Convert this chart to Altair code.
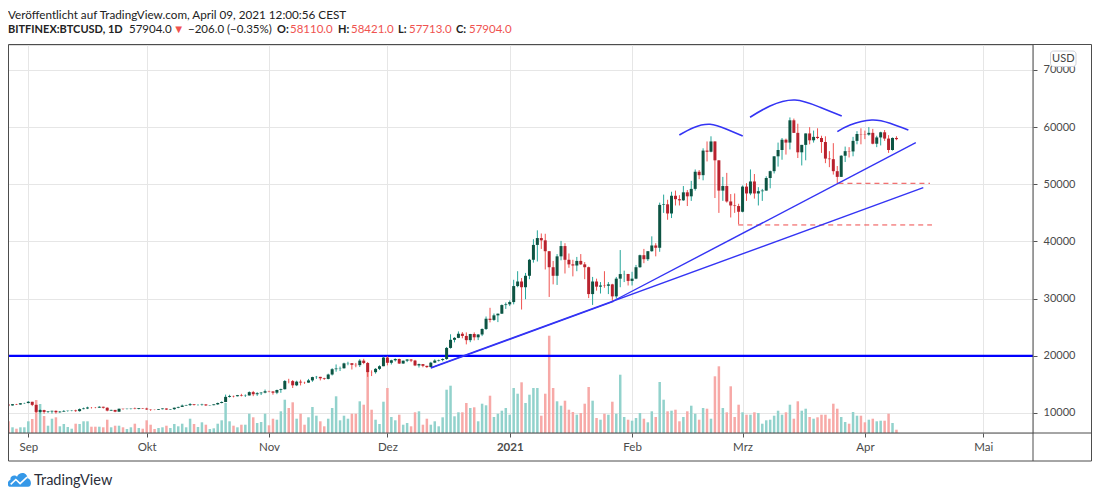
import altair as alt
import numpy as np
import pandas as pd

FONT = "Lato"

# ---------------- data ----------------
start_date = "2020-08-27"
first_open = 11470

aug_c = [11320, 11540, 11480, 11710, 11740]
aug_h = [11590, 11560, 11590, 11720, 11790]
aug_l = [11140, 11290, 11400, 11460, 11600]

sep_c = [11960, 11420, 10190, 10510, 10180, 10270, 10380, 10130, 10240, 10360, 10400, 10440, 10330, 10680, 10790,
         10960, 10950, 10930, 11090, 10920, 10420, 10540, 10230, 10740, 10690, 10730, 10770, 10700, 10840, 10780]
sep_h = [12090, 11960, 11470, 10660, 10570, 10340, 10410, 10440, 10350, 10510, 10420, 10480, 10580, 10790, 10940,
         11100, 11050, 11050, 11180, 11100, 10990, 10570, 10540, 10770, 10750, 10790, 10810, 10950, 10860, 10850]
sep_l = [11680, 11200, 10010, 9900, 9870, 10000, 9900, 9880, 10010, 10200, 10220, 10300, 10200, 10230, 10640,
         10680, 10780, 10830, 10890, 10770, 10290, 10360, 10140, 10200, 10570, 10640, 10620, 10650, 10640, 10700]

oct_c = [10620, 10570, 10550, 10670, 10790, 10600, 10670, 10920, 11060, 11300, 11380, 11550, 11430, 11430, 11500,
         11330, 11370, 11510, 11750, 11920, 12820, 12980, 12930, 13120, 13030, 13070, 13650, 13280, 13460, 13560, 13800]
oct_h = [10920, 10650, 10600, 10690, 10800, 10800, 10690, 10950, 11100, 11480, 11440, 11730, 11560, 11550, 11620,
         11540, 11400, 11530, 11820, 12030, 13220, 13190, 13030, 13160, 13350, 13250, 13780, 13860, 13640, 13660, 14100]
oct_l = [10530, 10370, 10500, 10530, 10630, 10530, 10570, 10550, 10830, 11050, 11260, 11230, 11300, 11280, 11280,
         11220, 11300, 11340, 11420, 11690, 11900, 12700, 12730, 12900, 12900, 12800, 13050, 12950, 12990, 13140, 13440]

nov_c = [13760, 13550, 14030, 14160, 15590, 15580, 14840, 15480, 15330, 15310, 15700, 16280, 16320, 16070, 15960,
         16730, 17660, 17780, 17820, 18680, 18710, 18420, 18370, 19160, 18740, 17150, 17140, 17720, 18180, 19700]
nov_h = [13900, 13830, 14070, 14260, 15770, 15980, 15770, 15650, 15830, 15470, 15960, 16340, 16480, 16330, 16160,
         16880, 17840, 18490, 18120, 18800, 18960, 18710, 18760, 19420, 19480, 18920, 17460, 17860, 18350, 19860]
nov_l = [13620, 13200, 13290, 13530, 14100, 15190, 14370, 14700, 14820, 15090, 15280, 15450, 15960, 15700, 15790,
         15880, 16560, 17220, 17340, 17770, 18350, 17610, 18000, 18040, 18530, 16320, 16460, 16880, 17510, 18180]

dec_c = [18780, 19220, 19450, 18650, 19150, 19360, 19170, 18320, 18550, 18250, 18030, 18800, 19170, 19270, 19440,
         21380, 22800, 23140, 23860, 23480, 22740, 23820, 23240, 23730, 24700, 26490, 26280, 27080, 27370, 28880, 29000]
dec_h = [19920, 19320, 19560, 19500, 19170, 19420, 19420, 19290, 18640, 18570, 18260, 18950, 19400, 19350, 19570,
         21550, 23770, 23270, 24270, 24150, 24100, 23840, 24100, 23790, 24790, 26880, 28400, 27400, 27400, 28990, 29330]
dec_l = [18330, 18480, 19000, 18580, 18600, 18900, 18900, 18200, 17950, 18000, 17880, 18020, 18730, 19000, 19050,
         19300, 21250, 22350, 23080, 23070, 22000, 22380, 22700, 22750, 23450, 24520, 25850, 26100, 25900, 27330, 28200]

jan_c = [29400, 32200, 33000, 32000, 34000, 36800, 39400, 40600, 40200, 38300, 35500, 34000, 37400, 39200, 36800,
         36000, 35800, 36600, 36000, 35500, 30800, 33000, 32100, 32300, 32250, 32500, 30400, 33500, 34300, 34320, 33100]
jan_h = [29680, 33300, 34800, 33600, 34500, 36950, 40400, 41950, 41400, 41350, 38300, 36600, 37800, 40100, 39700,
         37900, 36800, 37300, 37800, 36400, 35600, 33800, 33500, 32900, 34800, 32900, 32600, 33800, 38500, 34900, 34300]
jan_l = [28700, 29000, 32000, 28100, 29900, 33400, 36300, 36500, 38700, 35100, 30300, 32500, 32400, 36700, 34400,
         35400, 33900, 34800, 35900, 33400, 30100, 28900, 31400, 30900, 31900, 30800, 29600, 30000, 32000, 32900, 32300]

feb_c = [33500, 35500, 37600, 36900, 38300, 39300, 38900, 46400, 46500, 44900, 48000, 47400, 47200, 48600,
         47900, 49200, 52200, 51600, 55900, 55700, 57500, 54200, 48900, 49700, 47000, 46300, 46200, 45200]
feb_h = [34700, 35900, 37700, 38700, 38300, 40900, 39700, 46800, 48200, 47300, 48700, 48900, 48100, 49700,
         49000, 50600, 52600, 52500, 56300, 57500, 58400, 57500, 54200, 51300, 52000, 48300, 48400, 46600]
feb_l = [32300, 33400, 35400, 36200, 36600, 38200, 37400, 38200, 45000, 43800, 44100, 46300, 46300, 47100,
         46200, 47100, 48900, 50900, 50700, 54000, 55600, 47600, 45000, 47100, 46800, 44200, 45000, 43000]

mar_c = [49600, 48400, 50500, 48400, 48800, 48900, 51100, 52300, 54900, 56000, 57800, 57300, 61200, 59000, 55600,
         56900, 58900, 57700, 58300, 58100, 57400, 54500, 54400, 52300, 51300, 55000, 55800, 55750, 57600, 58800, 58750]
mar_h = [49800, 50200, 52600, 51800, 49500, 49200, 51400, 52400, 54900, 57300, 58100, 58000, 61700, 61500, 60600,
         56900, 58900, 60000, 59400, 59800, 58500, 58400, 55800, 57200, 53200, 55100, 56600, 56500, 58300, 59300, 59800]
mar_l = [45100, 47100, 48100, 47500, 46300, 47100, 48900, 49300, 51900, 53100, 54300, 55200, 56100, 59000, 54600,
         53300, 54200, 57000, 57300, 57900, 55500, 53700, 53000, 51700, 50200, 51300, 53900, 54700, 54900, 57000, 57000]

apr_c = [58700, 59000, 57100, 58200, 59100, 58000, 56000, 58110, 57904]
apr_h = [59400, 60000, 59700, 58500, 59200, 59500, 58600, 58200, 58421]
apr_l = [57900, 58500, 57000, 56500, 56800, 57600, 55500, 55900, 57713]

# volume (relative units)
volume = [11.7, 5.7, 4.3, 5.7, 5.7, 11.7, 14, 33, 29, 17, 7.3, 14.3, 15.7, 6.7, 9, 6, 4.3, 9.3, 9, 11.7,
          11.7, 6.3, 6.3, 6.3, 5.7, 13.3, 5.7, 7.3, 7.3, 5.7, 4, 5.7, 9.3, 5, 4.3, 12.7, 8.3, 4, 5, 5.7,
          7.3, 5, 9, 6.7, 9.3, 5.7, 14.3, 9, 6, 10.7, 8.3, 4, 4.7, 9.3, 12.7, 30, 11.7, 7.3, 5.7, 8.3,
          8.3, 19.3, 15.7, 10, 11, 19.3, 7.7, 14.3, 13.3, 21.7, 33.3, 25, 30.7, 14.3,
          19.3, 8.3, 15.7, 26, 17.3, 11.7, 6.7, 14.3, 25, 36.7, 12.7, 17.3, 14.3, 19.3, 19.3, 31.7, 28.3,
          68.3, 23.3, 13.3, 9, 31.3, 45, 16, 12.7, 18.3, 8.3, 10, 6.7, 20.7, 21.7, 8.3, 14.3, 8.3, 11.7,
          6.7, 15.7, 43.3, 47.3, 16.7, 20.7, 20.7, 30, 25, 25.7, 11.7, 29.3, 27.7, 37.3, 16,
          19.3, 22.3, 25, 18.3, 45, 39.3, 50.7, 30, 38.3, 45, 45, 17.3, 39.3, 97.3, 45, 31.7, 27.3, 32.3,
          23.3, 21, 18.3, 20, 29.3, 46, 32.3, 15, 13.3, 19.3, 18.3, 31.3, 19.3, 58.3, 16, 13.3, 12.3, 15,
          20, 14.3, 10.7, 21.7, 16, 51, 33.3, 21.7, 22.3, 23.3, 11.7, 16, 21.7, 27.3, 19.3, 13.3,
          25, 24.3, 14.3, 56.7, 66.7, 25, 20.7, 46.7, 16, 28.3, 20.7, 18.3, 18.3, 20.7, 20, 9.3, 12.7, 13.3,
          17.3, 22.3, 18.3, 20.7, 28.3, 14.3, 31.7, 22.3, 24.3, 16, 14.3, 15.7, 18.3, 18.3, 14.3, 29.3, 24.3,
          16, 11, 9.3, 21, 17.3, 17.3, 10.7, 13.3, 14.3, 11.7, 12.3, 12.3, 19.3, 10, 3.3]

# month ticks
month_starts = ["2020-09-01", "2020-10-01", "2020-11-01", "2020-12-01", "2021-01-01",
                "2021-02-01", "2021-03-01", "2021-04-01", "2021-05-01"]
month_labels = ["Sep", "Okt", "Nov", "Dez", "2021", "Feb", "Mrz", "Apr", "Mai"]
price_ticks = [10000, 15000, 20000, 25000, 30000, 35000, 40000, 45000, 50000, 55000, 60000, 65000, 70000]

# drawings (day index since start, price)
trend_id = ["A", "A", "B", "B", "C", "C"]
trend_i = [107.05, 231.8, 153.25, 229.9, 107.0, 153.3]
trend_p = [17920, 49410, 29590, 57280, 17850, 29520]

arc_id = [1, 1, 1, 1, 1, 2, 2, 2, 2, 2, 3, 3, 3, 3, 3]
arc_i = [169.98, 173.53, 177.76, 181.99, 186.04, 187.9, 192.96, 199.29, 205.63, 211.13,
         210.02, 213.24, 218.74, 223.38, 228.02]
arc_p = [58630, 59910, 60500, 59630, 58455, 61727, 63704, 64753, 63477, 61954,
         59208, 60380, 61255, 60677, 59505]

dash_i1 = [210.3, 184.9]
dash_i2 = [233.5, 234.0]
dash_p = [50180, 42890]

hline_p = 20000

hdr1 = "Veröffentlicht auf TradingView.com, April 09, 2021 12:00:56 CEST"
hdr2_text = ["BITFINEX:BTCUSD, 1D", "57904.0", "▼", "−206.0 (−0.35%)", "O:", "58110.0",
             "H:", "58421.0", "L:", "57713.0", "C:", "57904.0"]
hdr2_x = [8, 129, 173, 188, 277, 290, 338, 351, 398, 409, 456, 469]
hdr2_bold = [True, False, False, False, True, False, True, False, True, False, True, False]
hdr2_red = [False, False, True, False, False, True, False, True, False, True, False, True]

# ---------------- build tables ----------------
close = aug_c + sep_c + oct_c + nov_c + dec_c + jan_c + feb_c + mar_c + apr_c
high = aug_h + sep_h + oct_h + nov_h + dec_h + jan_h + feb_h + mar_h + apr_h
low = aug_l + sep_l + oct_l + nov_l + dec_l + jan_l + feb_l + mar_l + apr_l
n = len(close)
start = pd.Timestamp(start_date)
opens = [first_open] + close[:-1]
df = pd.DataFrame({"date": pd.date_range(start, periods=n, freq="D"), "i": np.arange(n),
                   "open": opens, "high": high, "low": low, "close": close, "volume": volume[:n]})
df["high"] = df[["high", "open", "close"]].max(axis=1)
df["low"] = df[["low", "open", "close"]].min(axis=1)
up = df["close"] >= df["open"]
df["body_col"] = np.where(up, "#0d5443", "#b8222e")
df["wick_col"] = np.where(up, "#26a69a", "#ef5350")
df["vol_col"] = np.where(up, "#92d2cc", "#f7a9a7")

tick_i = [(pd.Timestamp(d) - start).days for d in month_starts]
label_expr = " : ".join(f"datum.value == {t} ? '{l}'" for t, l in zip(tick_i, month_labels)) + " : ''"
bold_tick = tick_i[month_labels.index("2021")]

trend_df = pd.DataFrame({"id": trend_id, "ti": trend_i, "tp": trend_p})
arc_df = pd.DataFrame({"id": arc_id, "ai": arc_i, "ap": arc_p, "ord": np.arange(len(arc_i))})
dash_df = pd.DataFrame({"d1": dash_i1, "d2": dash_i2, "dp": dash_p})
one = pd.DataFrame({"a": [0]})

# ---------------- scales / axes ----------------
W, H = 1025, 388
x_scale = alt.Scale(domain=[-0.144, 259.6], nice=False, zero=False, padding=0)
x_axis = alt.Axis(values=tick_i, labelExpr=label_expr, grid=True, gridColor="#e6e6e6", domain=False,
                  tickSize=4, tickColor="#555555", labelColor="#4a4a4a", labelFontSize=11.5,
                  labelFont=FONT, labelPadding=4, labelFlush=False,
                  labelFontWeight={"condition": {"test": f"datum.value == {bold_tick}", "value": "bold"},
                                   "value": "normal"})
y_scale = alt.Scale(domain=[6500, 74370], nice=False, zero=False, padding=0)
y_axis = alt.Axis(orient="right", values=price_ticks, format="d", grid=True, gridColor="#e6e6e6",
                  domain=False, tickSize=4, tickColor="#555555", labelColor="#4a4a4a", labelFontSize=11,
                  labelFont=FONT, labelPadding=6)


def xenc(f):
    return alt.X(f"{f}:Q", scale=x_scale, axis=x_axis, title=None)


def yenc(f):
    return alt.Y(f"{f}:Q", scale=y_scale, axis=y_axis, title=None)


volume_layer = alt.Chart(df).mark_bar(size=2.5).encode(
    x=xenc("i"),
    y=alt.Y("volume:Q", scale=alt.Scale(domain=[0, H], nice=False, padding=0), axis=None),
    color=alt.Color("vol_col:N", scale=None))

hline = alt.Chart(one).mark_rule(color="#0000ff", strokeWidth=2.2).encode(y=alt.datum(hline_p))
wicks = alt.Chart(df).mark_rule(strokeWidth=1).encode(
    x=xenc("i"), y=yenc("low"), y2=alt.Y2("high"), color=alt.Color("wick_col:N", scale=None))
bodies = alt.Chart(df).mark_bar(size=3).encode(
    x=xenc("i"), y=yenc("open"), y2=alt.Y2("close"), color=alt.Color("body_col:N", scale=None))
trend = alt.Chart(trend_df).mark_line(color="#3434f4", strokeWidth=1.4).encode(
    x=xenc("ti"), y=yenc("tp"), detail="id:N")
arcs = alt.Chart(arc_df).mark_line(color="#3434f4", strokeWidth=1.6, interpolate="natural").encode(
    x=xenc("ai"), y=yenc("ap"), detail="id:N", order="ord:Q")
dashes = alt.Chart(dash_df).mark_rule(color="#ef4a4a", strokeWidth=1, strokeDash=[5, 4]).encode(
    x=xenc("d1"), x2=alt.X2("d2"), y=yenc("dp"))

price = alt.layer(hline, wicks, bodies, dashes, trend, arcs)
main = alt.layer(volume_layer, price).resolve_scale(y="independent")

# ---------------- decorations (pixel space relative to plot origin at page 8,45) ----------------
deco = []
frame_col = "#4d4d4d"
deco.append(alt.Chart(one).mark_rect(fill="transparent", stroke=frame_col, strokeWidth=1).encode(
    x=alt.value(0.5), x2=alt.value(1083.5), y=alt.value(-0.5), y2=alt.value(416)))
deco.append(alt.Chart(one).mark_rule(color=frame_col, strokeWidth=1).encode(
    x=alt.value(1025), y=alt.value(-0.5), y2=alt.value(416)))
deco.append(alt.Chart(one).mark_rule(color=frame_col, strokeWidth=1).encode(
    x=alt.value(0), x2=alt.value(1083.5), y=alt.value(388)))
# USD badge
deco.append(alt.Chart(one).mark_rect(fill="white", stroke="#d0d3da", cornerRadius=3).encode(
    x=alt.value(1042.5), x2=alt.value(1068), y=alt.value(6), y2=alt.value(21.5)))
deco.append(alt.Chart(one).mark_text(font=FONT, fontSize=11, color="#444444", align="center",
                                     baseline="middle").encode(
    x=alt.value(1055.3), y=alt.value(13.8), text=alt.value("USD")))
# header
deco.append(alt.Chart(one).mark_text(font=FONT, fontSize=11.7, color="#222222", align="left",
                                     baseline="alphabetic").encode(
    x=alt.value(0), y=alt.value(-26), text=alt.value(hdr1)))
for t, px, b, r in zip(hdr2_text, hdr2_x, hdr2_bold, hdr2_red):
    deco.append(alt.Chart(one).mark_text(font=FONT, fontSize=11 if b else 11.5,
                                         fontWeight="bold" if b else "normal",
                                         color="#ef5350" if r else "#222222", align="left",
                                         baseline="alphabetic").encode(
        x=alt.value(px - 8), y=alt.value(-12), text=alt.value(t)))
# footer logo
cloud = ("M-0.75,0.55 C-1.02,0.55 -1.05,0.08 -0.74,0.0 C-0.8,-0.36 -0.36,-0.46 -0.2,-0.26 "
         "C-0.05,-0.7 0.66,-0.66 0.64,-0.14 C1.0,-0.1 1.04,0.55 0.7,0.55 Z")
zig = "M-0.72,0.36 L-0.3,-0.04 L0.05,0.3 L0.62,-0.24"
deco.append(alt.Chart(one).mark_point(shape=cloud, filled=True, color="#3598e8", opacity=1, size=600).encode(
    x=alt.value(11.5), y=alt.value(435)))
deco.append(alt.Chart(one).mark_point(shape=zig, filled=False, color="white", strokeWidth=1.6,
                                      opacity=1, size=600).encode(
    x=alt.value(11.5), y=alt.value(435)))
deco.append(alt.Chart(one).mark_text(font=FONT, fontSize=14.5, color="#2a2e39", align="left",
                                     baseline="alphabetic").encode(
    x=alt.value(26), y=alt.value(440), text=alt.value("TradingView")))

chart = alt.layer(main, *deco).properties(
    width=W, height=H,
    padding={"left": 0, "top": 37, "right": 59, "bottom": 60},
    autosize=alt.AutoSizeParams(type="none"),
).configure_view(stroke=None).configure(background="white")

chart.save("out.html", embed_options={"renderer": "svg", "actions": False})
